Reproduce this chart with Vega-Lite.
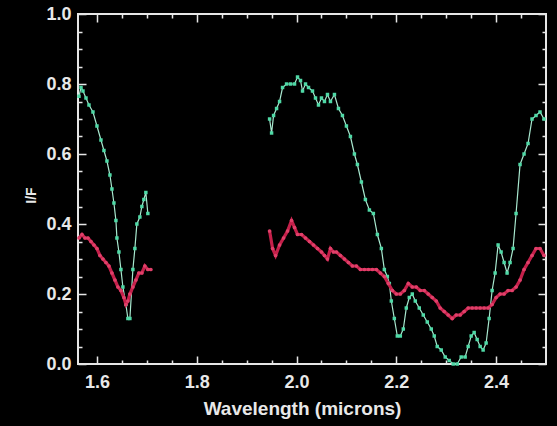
{
  "$schema": "https://vega.github.io/schema/vega-lite/v6.json",
  "description": "Spectra I/F vs wavelength; inward ticks drawn with dashed grid lines",
  "width": 468,
  "height": 350,
  "autosize": "none",
  "padding": {"left": 78, "top": 14, "right": 11, "bottom": 62},
  "background": "#000000",
  "config": {"view": {"stroke": "#e6e6e6", "strokeWidth": 2}},
  "encoding": {
    "x": {
      "field": "lam", "type": "quantitative",
      "scale": {"domain": [1.562, 2.5], "nice": false, "zero": false},
      "axis": {
        "values": [1.6, 1.65, 1.7, 1.75, 1.8, 1.85, 1.9, 1.95, 2.0, 2.05, 2.1, 2.15, 2.2, 2.25, 2.3, 2.35, 2.4, 2.45],
        "labelExpr": "abs(datum.value*5 - round(datum.value*5)) < 0.001 ? format(datum.value, '.1f') : ''",
        "labelOverlap": false,
        "labelFlush": false,
        "ticks": false,
        "domain": false,
        "labelPadding": 9,
        "labelColor": "#e8e8e8", "labelFont": "Liberation Sans", "labelFontWeight": "bold", "labelFontSize": 18,
        "grid": true,
        "gridColor": "#e6e6e6", "gridWidth": 1.5, "gridOpacity": 1,
        "gridDash": {"condition": {"test": "abs(datum.value*5 - round(datum.value*5)) < 0.001", "value": [8, 334]}, "value": [4, 342]},
        "title": "Wavelength (microns)",
        "titleColor": "#e8e8e8", "titleFont": "Liberation Sans", "titleFontWeight": "bold", "titleFontSize": 19,
        "titleX": 224, "titleY": 50, "titleBaseline": "alphabetic", "titleAnchor": "middle"
      }
    },
    "y": {
      "field": "iof", "type": "quantitative",
      "scale": {"domain": [0, 1], "nice": false},
      "axis": {
        "values": [0, 0.05, 0.1, 0.15, 0.2, 0.25, 0.3, 0.35, 0.4, 0.45, 0.5, 0.55, 0.6, 0.65, 0.7, 0.75, 0.8, 0.85, 0.9, 0.95, 1.0],
        "labelExpr": "abs(datum.value*5 - round(datum.value*5)) < 0.001 ? format(datum.value, '.1f') : ''",
        "labelOverlap": false,
        "labelFlush": false,
        "ticks": false,
        "domain": false,
        "labelPadding": 7,
        "labelColor": "#e8e8e8", "labelFont": "Liberation Sans", "labelFontWeight": "bold", "labelFontSize": 18,
        "grid": true,
        "gridColor": "#e6e6e6", "gridWidth": 1.5, "gridOpacity": 1,
        "gridDash": {"condition": {"test": "abs(datum.value*5 - round(datum.value*5)) < 0.001", "value": [8, 452]}, "value": [4, 460]},
        "title": "I/F",
        "titleColor": "#e8e8e8", "titleFont": "Liberation Sans", "titleFontWeight": "bold", "titleFontSize": 14,
        "titleAngle": -90, "titleX": -43, "titleY": 181, "titleBaseline": "alphabetic", "titleAnchor": "middle"
      }
    }
  },
  "layer": [
    {
      "transform": [{"filter": "datum.sp == 'g'"}],
      "mark": {"type": "line", "color": "#a8e8cf", "strokeWidth": 1.2},
      "encoding": {"detail": {"field": "part"}}
    },
    {
      "transform": [{"filter": "datum.sp == 'g'"}],
      "mark": {"type": "point", "shape": "square", "filled": true, "color": "#4fd9a6", "size": 12, "opacity": 1},
      "encoding": {}
    },
    {
      "transform": [{"filter": "datum.sp == 'r'"}],
      "mark": {"type": "line", "color": "#c4204a", "strokeWidth": 3.2},
      "encoding": {"detail": {"field": "part"}}
    },
    {
      "transform": [{"filter": "datum.sp == 'r'"}],
      "mark": {"type": "point", "shape": "circle", "filled": true, "color": "#e0406a", "size": 14, "opacity": 1},
      "encoding": {}
    }
  ],
  "data": {"values": [
      {"sp": "g", "part": "g1", "lam": 1.564, "iof": 0.765},
      {"sp": "g", "part": "g1", "lam": 1.568, "iof": 0.79},
      {"sp": "g", "part": "g1", "lam": 1.572, "iof": 0.78},
      {"sp": "g", "part": "g1", "lam": 1.578, "iof": 0.76},
      {"sp": "g", "part": "g1", "lam": 1.584, "iof": 0.74},
      {"sp": "g", "part": "g1", "lam": 1.592, "iof": 0.72},
      {"sp": "g", "part": "g1", "lam": 1.600, "iof": 0.68},
      {"sp": "g", "part": "g1", "lam": 1.608, "iof": 0.64},
      {"sp": "g", "part": "g1", "lam": 1.614, "iof": 0.61},
      {"sp": "g", "part": "g1", "lam": 1.620, "iof": 0.58},
      {"sp": "g", "part": "g1", "lam": 1.626, "iof": 0.54},
      {"sp": "g", "part": "g1", "lam": 1.630, "iof": 0.50},
      {"sp": "g", "part": "g1", "lam": 1.634, "iof": 0.46},
      {"sp": "g", "part": "g1", "lam": 1.638, "iof": 0.41},
      {"sp": "g", "part": "g1", "lam": 1.640, "iof": 0.36},
      {"sp": "g", "part": "g1", "lam": 1.644, "iof": 0.32},
      {"sp": "g", "part": "g1", "lam": 1.648, "iof": 0.27},
      {"sp": "g", "part": "g1", "lam": 1.652, "iof": 0.22},
      {"sp": "g", "part": "g1", "lam": 1.658, "iof": 0.17},
      {"sp": "g", "part": "g1", "lam": 1.662, "iof": 0.13},
      {"sp": "g", "part": "g1", "lam": 1.666, "iof": 0.13},
      {"sp": "g", "part": "g1", "lam": 1.672, "iof": 0.27},
      {"sp": "g", "part": "g1", "lam": 1.676, "iof": 0.33},
      {"sp": "g", "part": "g1", "lam": 1.680, "iof": 0.40},
      {"sp": "g", "part": "g1", "lam": 1.686, "iof": 0.42},
      {"sp": "g", "part": "g1", "lam": 1.690, "iof": 0.45},
      {"sp": "g", "part": "g1", "lam": 1.694, "iof": 0.47},
      {"sp": "g", "part": "g1", "lam": 1.698, "iof": 0.49},
      {"sp": "g", "part": "g1", "lam": 1.702, "iof": 0.43},
      {"sp": "g", "part": "g2", "lam": 1.946, "iof": 0.70},
      {"sp": "g", "part": "g2", "lam": 1.950, "iof": 0.66},
      {"sp": "g", "part": "g2", "lam": 1.954, "iof": 0.71},
      {"sp": "g", "part": "g2", "lam": 1.960, "iof": 0.73},
      {"sp": "g", "part": "g2", "lam": 1.966, "iof": 0.75},
      {"sp": "g", "part": "g2", "lam": 1.972, "iof": 0.79},
      {"sp": "g", "part": "g2", "lam": 1.980, "iof": 0.80},
      {"sp": "g", "part": "g2", "lam": 1.988, "iof": 0.80},
      {"sp": "g", "part": "g2", "lam": 1.996, "iof": 0.80},
      {"sp": "g", "part": "g2", "lam": 2.002, "iof": 0.82},
      {"sp": "g", "part": "g2", "lam": 2.008, "iof": 0.81},
      {"sp": "g", "part": "g2", "lam": 2.012, "iof": 0.78},
      {"sp": "g", "part": "g2", "lam": 2.018, "iof": 0.80},
      {"sp": "g", "part": "g2", "lam": 2.024, "iof": 0.79},
      {"sp": "g", "part": "g2", "lam": 2.032, "iof": 0.78},
      {"sp": "g", "part": "g2", "lam": 2.038, "iof": 0.76},
      {"sp": "g", "part": "g2", "lam": 2.044, "iof": 0.74},
      {"sp": "g", "part": "g2", "lam": 2.050, "iof": 0.76},
      {"sp": "g", "part": "g2", "lam": 2.056, "iof": 0.75},
      {"sp": "g", "part": "g2", "lam": 2.062, "iof": 0.77},
      {"sp": "g", "part": "g2", "lam": 2.068, "iof": 0.75},
      {"sp": "g", "part": "g2", "lam": 2.076, "iof": 0.77},
      {"sp": "g", "part": "g2", "lam": 2.084, "iof": 0.73},
      {"sp": "g", "part": "g2", "lam": 2.092, "iof": 0.71},
      {"sp": "g", "part": "g2", "lam": 2.100, "iof": 0.68},
      {"sp": "g", "part": "g2", "lam": 2.108, "iof": 0.65},
      {"sp": "g", "part": "g2", "lam": 2.116, "iof": 0.60},
      {"sp": "g", "part": "g2", "lam": 2.122, "iof": 0.57},
      {"sp": "g", "part": "g2", "lam": 2.130, "iof": 0.52},
      {"sp": "g", "part": "g2", "lam": 2.138, "iof": 0.47},
      {"sp": "g", "part": "g2", "lam": 2.146, "iof": 0.44},
      {"sp": "g", "part": "g2", "lam": 2.154, "iof": 0.43},
      {"sp": "g", "part": "g2", "lam": 2.162, "iof": 0.37},
      {"sp": "g", "part": "g2", "lam": 2.170, "iof": 0.33},
      {"sp": "g", "part": "g2", "lam": 2.176, "iof": 0.27},
      {"sp": "g", "part": "g2", "lam": 2.182, "iof": 0.25},
      {"sp": "g", "part": "g2", "lam": 2.186, "iof": 0.23},
      {"sp": "g", "part": "g2", "lam": 2.190, "iof": 0.18},
      {"sp": "g", "part": "g2", "lam": 2.196, "iof": 0.13},
      {"sp": "g", "part": "g2", "lam": 2.202, "iof": 0.08},
      {"sp": "g", "part": "g2", "lam": 2.208, "iof": 0.08},
      {"sp": "g", "part": "g2", "lam": 2.214, "iof": 0.10},
      {"sp": "g", "part": "g2", "lam": 2.220, "iof": 0.16},
      {"sp": "g", "part": "g2", "lam": 2.226, "iof": 0.19},
      {"sp": "g", "part": "g2", "lam": 2.232, "iof": 0.20},
      {"sp": "g", "part": "g2", "lam": 2.238, "iof": 0.18},
      {"sp": "g", "part": "g2", "lam": 2.246, "iof": 0.16},
      {"sp": "g", "part": "g2", "lam": 2.254, "iof": 0.14},
      {"sp": "g", "part": "g2", "lam": 2.262, "iof": 0.12},
      {"sp": "g", "part": "g2", "lam": 2.270, "iof": 0.10},
      {"sp": "g", "part": "g2", "lam": 2.276, "iof": 0.08},
      {"sp": "g", "part": "g2", "lam": 2.282, "iof": 0.05},
      {"sp": "g", "part": "g2", "lam": 2.290, "iof": 0.04},
      {"sp": "g", "part": "g2", "lam": 2.298, "iof": 0.02},
      {"sp": "g", "part": "g2", "lam": 2.306, "iof": 0.01},
      {"sp": "g", "part": "g2", "lam": 2.314, "iof": 0.00},
      {"sp": "g", "part": "g2", "lam": 2.322, "iof": 0.00},
      {"sp": "g", "part": "g2", "lam": 2.330, "iof": 0.02},
      {"sp": "g", "part": "g2", "lam": 2.338, "iof": 0.02},
      {"sp": "g", "part": "g2", "lam": 2.344, "iof": 0.05},
      {"sp": "g", "part": "g2", "lam": 2.350, "iof": 0.08},
      {"sp": "g", "part": "g2", "lam": 2.356, "iof": 0.09},
      {"sp": "g", "part": "g2", "lam": 2.362, "iof": 0.07},
      {"sp": "g", "part": "g2", "lam": 2.368, "iof": 0.05},
      {"sp": "g", "part": "g2", "lam": 2.374, "iof": 0.04},
      {"sp": "g", "part": "g2", "lam": 2.380, "iof": 0.06},
      {"sp": "g", "part": "g2", "lam": 2.386, "iof": 0.13},
      {"sp": "g", "part": "g2", "lam": 2.392, "iof": 0.21},
      {"sp": "g", "part": "g2", "lam": 2.398, "iof": 0.26},
      {"sp": "g", "part": "g2", "lam": 2.404, "iof": 0.34},
      {"sp": "g", "part": "g2", "lam": 2.410, "iof": 0.32},
      {"sp": "g", "part": "g2", "lam": 2.416, "iof": 0.29},
      {"sp": "g", "part": "g2", "lam": 2.422, "iof": 0.26},
      {"sp": "g", "part": "g2", "lam": 2.428, "iof": 0.29},
      {"sp": "g", "part": "g2", "lam": 2.434, "iof": 0.33},
      {"sp": "g", "part": "g2", "lam": 2.440, "iof": 0.43},
      {"sp": "g", "part": "g2", "lam": 2.448, "iof": 0.57},
      {"sp": "g", "part": "g2", "lam": 2.456, "iof": 0.60},
      {"sp": "g", "part": "g2", "lam": 2.464, "iof": 0.63},
      {"sp": "g", "part": "g2", "lam": 2.472, "iof": 0.70},
      {"sp": "g", "part": "g2", "lam": 2.480, "iof": 0.71},
      {"sp": "g", "part": "g2", "lam": 2.488, "iof": 0.72},
      {"sp": "g", "part": "g2", "lam": 2.496, "iof": 0.70},
      {"sp": "r", "part": "r1", "lam": 1.564, "iof": 0.36},
      {"sp": "r", "part": "r1", "lam": 1.570, "iof": 0.37},
      {"sp": "r", "part": "r1", "lam": 1.576, "iof": 0.36},
      {"sp": "r", "part": "r1", "lam": 1.582, "iof": 0.36},
      {"sp": "r", "part": "r1", "lam": 1.588, "iof": 0.35},
      {"sp": "r", "part": "r1", "lam": 1.594, "iof": 0.34},
      {"sp": "r", "part": "r1", "lam": 1.600, "iof": 0.33},
      {"sp": "r", "part": "r1", "lam": 1.606, "iof": 0.31},
      {"sp": "r", "part": "r1", "lam": 1.612, "iof": 0.30},
      {"sp": "r", "part": "r1", "lam": 1.618, "iof": 0.29},
      {"sp": "r", "part": "r1", "lam": 1.624, "iof": 0.28},
      {"sp": "r", "part": "r1", "lam": 1.630, "iof": 0.26},
      {"sp": "r", "part": "r1", "lam": 1.636, "iof": 0.24},
      {"sp": "r", "part": "r1", "lam": 1.642, "iof": 0.22},
      {"sp": "r", "part": "r1", "lam": 1.648, "iof": 0.21},
      {"sp": "r", "part": "r1", "lam": 1.654, "iof": 0.19},
      {"sp": "r", "part": "r1", "lam": 1.658, "iof": 0.17},
      {"sp": "r", "part": "r1", "lam": 1.662, "iof": 0.18},
      {"sp": "r", "part": "r1", "lam": 1.666, "iof": 0.20},
      {"sp": "r", "part": "r1", "lam": 1.672, "iof": 0.22},
      {"sp": "r", "part": "r1", "lam": 1.678, "iof": 0.24},
      {"sp": "r", "part": "r1", "lam": 1.684, "iof": 0.26},
      {"sp": "r", "part": "r1", "lam": 1.690, "iof": 0.26},
      {"sp": "r", "part": "r1", "lam": 1.696, "iof": 0.28},
      {"sp": "r", "part": "r1", "lam": 1.702, "iof": 0.27},
      {"sp": "r", "part": "r1", "lam": 1.708, "iof": 0.27},
      {"sp": "r", "part": "r2", "lam": 1.946, "iof": 0.38},
      {"sp": "r", "part": "r2", "lam": 1.952, "iof": 0.33},
      {"sp": "r", "part": "r2", "lam": 1.958, "iof": 0.31},
      {"sp": "r", "part": "r2", "lam": 1.966, "iof": 0.34},
      {"sp": "r", "part": "r2", "lam": 1.974, "iof": 0.36},
      {"sp": "r", "part": "r2", "lam": 1.982, "iof": 0.38},
      {"sp": "r", "part": "r2", "lam": 1.990, "iof": 0.41},
      {"sp": "r", "part": "r2", "lam": 1.996, "iof": 0.39},
      {"sp": "r", "part": "r2", "lam": 2.002, "iof": 0.37},
      {"sp": "r", "part": "r2", "lam": 2.010, "iof": 0.37},
      {"sp": "r", "part": "r2", "lam": 2.018, "iof": 0.36},
      {"sp": "r", "part": "r2", "lam": 2.026, "iof": 0.35},
      {"sp": "r", "part": "r2", "lam": 2.034, "iof": 0.34},
      {"sp": "r", "part": "r2", "lam": 2.042, "iof": 0.33},
      {"sp": "r", "part": "r2", "lam": 2.050, "iof": 0.32},
      {"sp": "r", "part": "r2", "lam": 2.056, "iof": 0.31},
      {"sp": "r", "part": "r2", "lam": 2.062, "iof": 0.30},
      {"sp": "r", "part": "r2", "lam": 2.068, "iof": 0.33},
      {"sp": "r", "part": "r2", "lam": 2.074, "iof": 0.32},
      {"sp": "r", "part": "r2", "lam": 2.080, "iof": 0.32},
      {"sp": "r", "part": "r2", "lam": 2.088, "iof": 0.31},
      {"sp": "r", "part": "r2", "lam": 2.096, "iof": 0.30},
      {"sp": "r", "part": "r2", "lam": 2.104, "iof": 0.29},
      {"sp": "r", "part": "r2", "lam": 2.112, "iof": 0.28},
      {"sp": "r", "part": "r2", "lam": 2.120, "iof": 0.28},
      {"sp": "r", "part": "r2", "lam": 2.128, "iof": 0.27},
      {"sp": "r", "part": "r2", "lam": 2.136, "iof": 0.27},
      {"sp": "r", "part": "r2", "lam": 2.144, "iof": 0.27},
      {"sp": "r", "part": "r2", "lam": 2.152, "iof": 0.27},
      {"sp": "r", "part": "r2", "lam": 2.160, "iof": 0.27},
      {"sp": "r", "part": "r2", "lam": 2.168, "iof": 0.26},
      {"sp": "r", "part": "r2", "lam": 2.176, "iof": 0.25},
      {"sp": "r", "part": "r2", "lam": 2.184, "iof": 0.23},
      {"sp": "r", "part": "r2", "lam": 2.192, "iof": 0.21},
      {"sp": "r", "part": "r2", "lam": 2.200, "iof": 0.20},
      {"sp": "r", "part": "r2", "lam": 2.208, "iof": 0.20},
      {"sp": "r", "part": "r2", "lam": 2.216, "iof": 0.21},
      {"sp": "r", "part": "r2", "lam": 2.224, "iof": 0.23},
      {"sp": "r", "part": "r2", "lam": 2.232, "iof": 0.22},
      {"sp": "r", "part": "r2", "lam": 2.240, "iof": 0.22},
      {"sp": "r", "part": "r2", "lam": 2.248, "iof": 0.21},
      {"sp": "r", "part": "r2", "lam": 2.256, "iof": 0.21},
      {"sp": "r", "part": "r2", "lam": 2.264, "iof": 0.20},
      {"sp": "r", "part": "r2", "lam": 2.272, "iof": 0.19},
      {"sp": "r", "part": "r2", "lam": 2.280, "iof": 0.18},
      {"sp": "r", "part": "r2", "lam": 2.288, "iof": 0.16},
      {"sp": "r", "part": "r2", "lam": 2.296, "iof": 0.15},
      {"sp": "r", "part": "r2", "lam": 2.304, "iof": 0.14},
      {"sp": "r", "part": "r2", "lam": 2.312, "iof": 0.13},
      {"sp": "r", "part": "r2", "lam": 2.320, "iof": 0.14},
      {"sp": "r", "part": "r2", "lam": 2.328, "iof": 0.14},
      {"sp": "r", "part": "r2", "lam": 2.336, "iof": 0.15},
      {"sp": "r", "part": "r2", "lam": 2.344, "iof": 0.16},
      {"sp": "r", "part": "r2", "lam": 2.352, "iof": 0.16},
      {"sp": "r", "part": "r2", "lam": 2.360, "iof": 0.16},
      {"sp": "r", "part": "r2", "lam": 2.368, "iof": 0.16},
      {"sp": "r", "part": "r2", "lam": 2.376, "iof": 0.16},
      {"sp": "r", "part": "r2", "lam": 2.384, "iof": 0.16},
      {"sp": "r", "part": "r2", "lam": 2.392, "iof": 0.17},
      {"sp": "r", "part": "r2", "lam": 2.400, "iof": 0.19},
      {"sp": "r", "part": "r2", "lam": 2.408, "iof": 0.20},
      {"sp": "r", "part": "r2", "lam": 2.416, "iof": 0.20},
      {"sp": "r", "part": "r2", "lam": 2.424, "iof": 0.21},
      {"sp": "r", "part": "r2", "lam": 2.432, "iof": 0.21},
      {"sp": "r", "part": "r2", "lam": 2.440, "iof": 0.22},
      {"sp": "r", "part": "r2", "lam": 2.448, "iof": 0.24},
      {"sp": "r", "part": "r2", "lam": 2.456, "iof": 0.27},
      {"sp": "r", "part": "r2", "lam": 2.464, "iof": 0.29},
      {"sp": "r", "part": "r2", "lam": 2.472, "iof": 0.31},
      {"sp": "r", "part": "r2", "lam": 2.480, "iof": 0.33},
      {"sp": "r", "part": "r2", "lam": 2.488, "iof": 0.33},
      {"sp": "r", "part": "r2", "lam": 2.496, "iof": 0.31}
  ]}
}
